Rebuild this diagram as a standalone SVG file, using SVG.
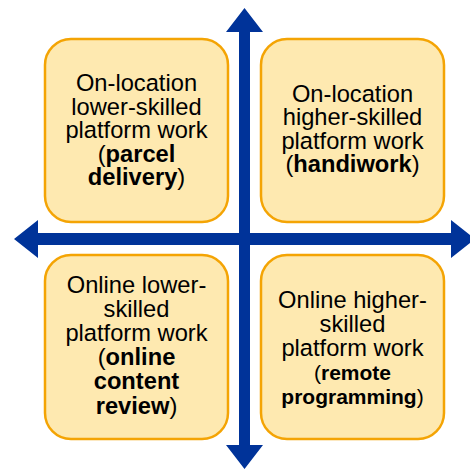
<svg xmlns="http://www.w3.org/2000/svg" width="470" height="469" viewBox="0 0 470 469">
<style>
.box{fill:#FEE9B0;stroke:#F4A404;stroke-width:2.5}
.t{font-family:"Liberation Sans",Arial,sans-serif;font-size:23.7px;fill:#000;text-anchor:middle}
.b{font-weight:bold}
.s{font-size:21px}
.arr{fill:#003399}
</style>
<rect width="470" height="469" fill="#fff"/>
<g id="connectors">
<polygon class="arr" points="239,32 226,32 244.5,8 263,32 250,32 250,445 263,445 244.5,469 226,445 239,445"/>
<polygon class="arr" points="38,233 38,220 14,239 38,258 38,245 451,245 451,258 475,239 451,220 451,233"/>
</g>
<g id="node-tl">
<rect class="box" x="45" y="39" width="183" height="183" rx="26"/>
<text class="t" x="136.5" y="91">On-location</text>
<text class="t" x="136.5" y="114.5">lower-skilled</text>
<text class="t" x="136.5" y="138">platform work</text>
<text class="t" x="136.5" y="161.5">(<tspan class="b">parcel</tspan></text>
<text class="t" x="136.5" y="185"><tspan class="b">delivery</tspan>)</text>
</g>
<g id="node-tr">
<rect class="box" x="261" y="39" width="183" height="183" rx="26"/>
<text class="t" x="352.5" y="101.5">On-location</text>
<text class="t" x="352.5" y="125.1">higher-skilled</text>
<text class="t" x="352.5" y="148.7">platform work</text>
<text class="t" x="352.5" y="172.3">(<tspan class="b">handiwork</tspan>)</text>
</g>
<g id="node-bl">
<rect class="box" x="45" y="255" width="183" height="184" rx="26"/>
<text class="t" x="136.5" y="292.5">Online lower-</text>
<text class="t" x="136.5" y="316.7">skilled</text>
<text class="t" x="136.5" y="340.9">platform work</text>
<text class="t" x="136.5" y="365.1">(<tspan class="b">online</tspan></text>
<text class="t" x="136.5" y="389.3"><tspan class="b">content</tspan></text>
<text class="t" x="136.5" y="413.5"><tspan class="b">review</tspan>)</text>
</g>
<g id="node-br">
<rect class="box" x="261" y="255" width="183" height="184" rx="26"/>
<text class="t" x="352.5" y="307.5">Online higher-</text>
<text class="t" x="352.5" y="331.5">skilled</text>
<text class="t" x="352.5" y="355.5">platform work</text>
<text class="t s" x="352.5" y="379.5">(<tspan class="b">remote</tspan></text>
<text class="t s" x="352.5" y="403.5"><tspan class="b">programming</tspan>)</text>
</g>
</svg>
